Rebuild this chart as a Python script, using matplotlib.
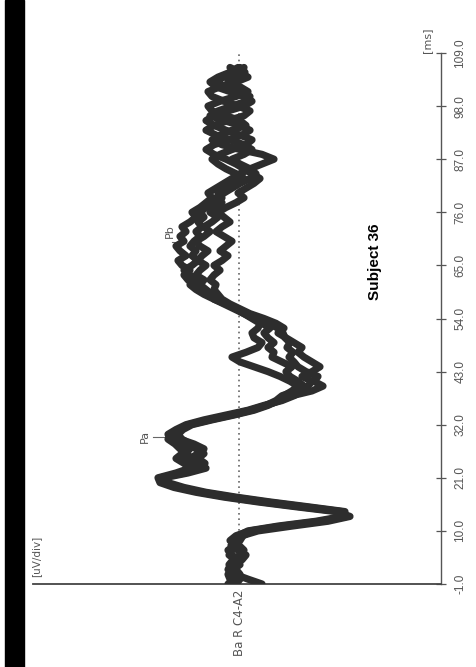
import matplotlib
matplotlib.use("Agg")
import matplotlib.pyplot as plt
from matplotlib.patches import Rectangle

# time axis (ms), one sample per ms
t_ms = list(range(-1, 107))

# four superimposed sweeps, amplitude in arbitrary units (positive drawn to the left)
sweep_1 = [-2.3, -0.9, 0.4, 0.9, 0.6, 0.1, 0.7, 1.1, 0.4, -0.1,
           -0.4, -1.3, -4.6, -8.3, -10.8, -10.1, -6.1, -2.3, 1.1, 3.9,
           6.1, 7.6, 7.9, 5.4, 3.9, 4.9, 5.7, 5.1, 5.9, 6.4,
           7.1, 6.9, 6.1, 5.1, 3.1, 0.9, -1.1, -2.7, -4.1, -5.3,
           -7.3, -8.4, -7.5, -7.9, -6.7, -5.9, -5.5, -5.0, -5.4, -4.8,
           -5.1, -4.6, -4.4, -3.9, -2.9, -1.7, -0.7, 0.3, 1.3, 2.3,
           3.1, 3.9, 4.5, 5.1, 5.5, 4.9, 5.7, 6.1, 5.3, 5.9,
           6.3, 5.5, 5.9, 5.3, 5.7, 4.9, 4.3, 4.7, 3.9, 3.3,
           2.7, 3.1, 2.3, 1.5, 0.7, -0.1, -1.1, -2.3, -3.5, -2.3,
           -0.1, 1.7, 2.7, 1.9, 0.7, -0.7, -0.1, 1.3, 2.7, 3.1,
           1.9, 0.3, -0.9, -0.1, 1.1, 0.4, -0.6, -0.1]
sweep_2 = [0.7, 0.9, 1.1, 0.6, -0.1, 0.3, 1.0, 0.7, 0.1, 0.5,
           0.1, -0.9, -3.9, -7.7, -10.4, -10.6, -6.9, -3.1, 0.3, 3.3,
           5.5, 7.1, 7.7, 5.9, 4.4, 3.4, 4.1, 3.5, 4.3, 4.9,
           5.7, 6.1, 5.6, 4.7, 2.7, 0.5, -1.5, -2.9, -3.9, -4.5,
           -5.3, -5.9, -5.1, -4.1, -2.9, -1.5, -0.1, 0.7, -0.7, -1.9,
           -2.3, -1.5, -1.3, -1.9, -2.1, -1.3, -0.5, 0.5, 1.5, 2.5,
           2.7, 3.3, 3.9, 3.5, 4.3, 3.9, 3.3, 4.1, 3.7, 3.1,
           3.9, 4.3, 3.5, 2.9, 3.5, 2.7, 2.1, 2.9, 2.3, 1.7,
           2.3, 1.5, 0.7, -0.1, -1.1, -1.7, -1.1, -0.1, 0.7, -0.5,
           -1.3, -0.5, 0.9, 2.3, 3.3, 2.5, 1.1, -0.5, -1.1, 0.1,
           1.5, 2.7, 3.1, 1.9, 0.3, -0.9, -0.1, 0.9]
sweep_3 = [0.3, -0.1, 0.5, 1.1, 0.8, -0.3, -0.7, 0.1, 0.8, 0.3,
           -0.3, -1.9, -5.3, -8.9, -11.1, -9.7, -5.7, -1.9, 1.5, 4.3,
           6.5, 7.9, 8.1, 6.3, 4.9, 5.5, 6.3, 5.7, 4.9, 5.5,
           6.7, 7.1, 6.3, 5.3, 3.5, 1.3, -0.9, -2.5, -4.3, -5.5,
           -6.3, -6.9, -7.3, -6.3, -7.3, -8.1, -7.3, -6.5, -5.9, -6.3,
           -5.5, -4.7, -3.9, -4.5, -3.7, -2.5, -1.1, -0.1, 0.9, 1.7,
           2.1, 2.5, 2.3, 2.9, 2.5, 1.9, 2.5, 1.7, 1.1, 1.9,
           1.3, 0.7, 1.5, 2.3, 1.7, 0.9, 1.5, 2.1, 1.3, 0.3,
           -0.5, 0.1, -0.7, -1.5, -2.1, -1.3, -0.5, 0.3, 1.3, 2.5,
           3.3, 2.5, 1.1, -0.3, -1.1, -0.1, 1.5, 2.9, 2.1, 0.7,
           -0.7, -1.1, 0.1, 1.3, 2.5, 1.5, 0.3, -0.5]
sweep_4 = [1.1, 0.5, -0.1, 0.3, 1.0, 0.6, -0.1, -0.5, 0.0, 0.9,
           0.3, -1.1, -4.3, -8.1, -10.7, -10.3, -6.5, -2.7, 0.7, 3.7,
           5.9, 7.4, 7.5, 5.1, 3.3, 4.1, 4.9, 4.1, 3.5, 4.5,
           5.9, 6.5, 5.9, 4.9, 2.9, 0.7, -1.3, -2.7, -3.7, -4.3,
           -5.7, -6.5, -5.9, -5.1, -4.7, -5.3, -4.3, -3.3, -3.5, -2.9,
           -3.5, -2.9, -2.5, -3.1, -2.3, -1.5, -0.5, 0.3, 1.3, 2.5,
           3.5, 4.3, 4.9, 4.3, 4.9, 5.5, 4.7, 4.1, 4.7, 4.3,
           4.9, 4.5, 3.9, 4.3, 3.7, 4.1, 3.5, 3.9, 3.3, 2.5,
           1.7, 2.1, 1.3, 0.3, -0.5, 0.3, 1.3, 2.1, 2.7, 1.9,
           0.7, -0.7, -1.3, -0.1, 1.3, 2.5, 3.3, 2.5, 1.1, -0.5,
           -1.3, -0.5, 0.9, 2.3, 2.9, 2.1, 0.9, 0.1]

sweeps = [sweep_1, sweep_2, sweep_3, sweep_4]

time_ticks = [-1.0, 10.0, 21.0, 32.0, 43.0, 54.0, 65.0, 76.0, 87.0, 98.0, 109.0]

W, H = 477, 667
fig = plt.figure(figsize=(W / 100, H / 100), dpi=100)
fig.patches.append(Rectangle((5 / W, 0), 19 / W, 1, transform=fig.transFigure,
                             color="black", zorder=0))

ax = fig.add_axes([33 / W, 1 - 584 / H, (441 - 33) / W, (584 - 53) / H])
ax.set_xlim(20.6, -20.2)
ax.set_ylim(-1, 109)

for s in sweeps:
    ax.plot(s, t_ms, color="#2d2d2d", lw=5.2, solid_joinstyle="round",
            solid_capstyle="round", zorder=3)

# baseline (zero amplitude), dotted
ax.axvline(0, color="#666666", lw=1.2, ls=(0, (1, 2.2)), zorder=1)

for side in ["top", "left"]:
    ax.spines[side].set_visible(False)
ax.spines["bottom"].set_color("#444444")
ax.spines["bottom"].set_linewidth(1.3)
ax.spines["right"].set_color("#555555")
ax.spines["right"].set_linewidth(1.0)

ax.set_xticks([])
ax.yaxis.tick_right()
ax.set_yticks(time_ticks)
ax.set_yticklabels(["%.1f" % v for v in time_ticks], rotation=90, va="center",
                   fontsize=8.5, color="#555555", family="Liberation Sans")
ax.tick_params(axis="y", direction="inout", length=7, width=0.9, color="#555555", pad=6)

# peak markers
ax.plot([8.6, 7.1], [29.5, 29.5], color="#666666", lw=0.8)
ax.text(9.4, 29.5, "Pa", rotation=90, ha="center", va="center", fontsize=8, color="#555555")
ax.plot([6.7, 5.6], [69.8, 69.8], color="#666666", lw=0.8)
ax.text(6.9, 72.2, "Pb", rotation=90, ha="center", va="center", fontsize=8, color="#555555")

fig.text(427 / W, 1 - 40 / H, "[ms]", rotation=90, ha="center", va="center",
         fontsize=8, color="#555555")
fig.text(36 / W, 1 - 556 / H, "[uV/div]", rotation=90, ha="center", va="center",
         fontsize=7.5, color="#555555")
fig.text(240 / W, 1 - 590 / H, "Ba R C4-A2", rotation=90, ha="center", va="top",
         fontsize=8.5, color="#555555")
fig.text(375 / W, 1 - 262 / H, "Subject 36", rotation=90, ha="center", va="center",
         fontsize=11, fontweight="bold", color="black", family="Liberation Sans")

fig.savefig("out.png", dpi=100)
